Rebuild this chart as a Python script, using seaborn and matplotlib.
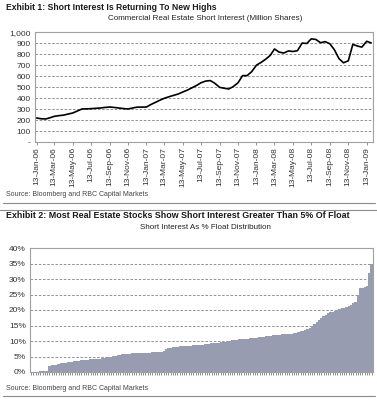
import matplotlib
matplotlib.use("Agg")
import matplotlib.pyplot as plt
import matplotlib.dates as mdates
from matplotlib.lines import Line2D
from matplotlib.ticker import FuncFormatter, MultipleLocator
import pandas as pd
import seaborn as sns

# Exhibit 1: semi-monthly short interest, million shares (13th and 28th of each month)
start_month = "2006-01"
end_month = "2009-01"
short_interest = [
    219, 212, 210, 222, 234, 240, 245, 255, 264, 282,
    301, 302, 304, 307, 310, 315, 319, 315, 310, 305,
    301, 310, 318, 318, 319, 342, 363, 383, 398, 412,
    425, 437, 455, 472, 494, 515, 540, 555, 560, 535,
    498, 490, 483, 505, 540, 605, 605, 640, 700, 725,
    755, 790, 848, 820, 811, 830, 825, 832, 902, 898,
    940, 935, 905, 915, 895, 840, 760, 722, 740, 890,
    875, 865, 918, 903,
]

# Exhibit 2: short interest as % of float, one bar per stock (sorted)
pct_float = [
    0.0, 0.0, 0.1, 0.1, 0.2, 0.2, 0.3, 0.4, 2.0, 2.1,
    2.2, 2.3, 2.5, 2.8, 2.9, 3.0, 3.1, 3.2, 3.3, 3.4,
    3.6, 3.7, 3.9, 3.9, 4.0, 4.0, 4.1, 4.2, 4.2, 4.3,
    4.3, 4.4, 4.6, 4.8, 4.9, 5.0, 5.1, 5.3, 5.5, 5.6,
    5.7, 5.8, 5.9, 5.9, 6.0, 6.0, 6.0, 6.0, 6.0, 6.0,
    6.1, 6.1, 6.2, 6.3, 6.3, 6.4, 6.4, 6.5, 6.9, 7.3,
    7.6, 7.8, 8.0, 8.1, 8.2, 8.3, 8.3, 8.4, 8.4, 8.5,
    8.5, 8.6, 8.6, 8.7, 8.7, 8.8, 8.9, 9.0, 9.1, 9.2,
    9.3, 9.4, 9.5, 9.6, 9.7, 9.8, 9.9, 10.0, 10.2, 10.3,
    10.4, 10.5, 10.6, 10.7, 10.7, 10.8, 10.9, 11.0, 11.0, 11.1,
    11.2, 11.3, 11.4, 11.5, 11.6, 11.7, 11.8, 11.9, 11.9, 12.0,
    12.1, 12.2, 12.2, 12.3, 12.4, 12.5, 12.7, 12.9, 13.1, 13.3,
    13.6, 13.8, 14.3, 14.9, 15.5, 16.2, 16.9, 17.5, 18.0, 18.5,
    18.9, 19.2, 19.5, 19.7, 20.0, 20.4, 20.7, 20.8, 21.0, 21.3,
    21.6, 22.2, 22.7, 24.8, 27.0, 27.2, 27.4, 27.6, 32.0, 35.0,
]

title1 = "Exhibit 1: Short Interest Is Returning To New Highs"
subtitle1 = "Commercial Real Estate Short Interest (Million Shares)"
title2 = "Exhibit 2: Most Real Estate Stocks Show Short Interest Greater Than 5% Of Float"
subtitle2 = "Short Interest As % Float Distribution"
source = "Source: Bloomberg and RBC Capital Markets"

months = pd.date_range(start_month + "-01", end_month + "-01", freq="MS")
dates = []
for m in months:
    dates.append(m + pd.Timedelta(days=12))
    dates.append(m + pd.Timedelta(days=27))
df1 = pd.DataFrame({"date": dates, "value": short_interest})
df2 = pd.DataFrame({"stock": list(range(len(pct_float))), "pct": pct_float})

sns.set_theme(style="white")
plt.rcParams["font.family"] = ["Liberation Sans", "DejaVu Sans"]

frame_col = "#a0a0a0"
grid_col = "#808080"
bar_col = "#979cb1"

fig = plt.figure(figsize=(3.77, 4.0), dpi=100)

# ---- chart 1
ax1 = fig.add_axes([35 / 377, 1 - 142 / 400, (372.7 - 35) / 377, (142 - 32.3) / 400])
sns.lineplot(data=df1, x="date", y="value", color="black", linewidth=1.2, ax=ax1)
ax1.set_ylim(0, 1000)
ax1.set_xlim(pd.Timestamp("2006-01-08"), pd.Timestamp("2009-02-02"))
ax1.yaxis.set_major_locator(MultipleLocator(100))
ax1.yaxis.set_major_formatter(FuncFormatter(lambda v, p: "-" if v == 0 else f"{v:,.0f}"))
ax1.xaxis.set_major_locator(mdates.MonthLocator(bymonth=[1, 3, 5, 7, 9, 11], bymonthday=13))
ax1.xaxis.set_major_formatter(mdates.DateFormatter("%d-%b-%y"))
ax1.grid(axis="y", color=grid_col, linestyle=(0, (3, 2)), linewidth=0.6)
ax1.set_xlabel("")
ax1.set_ylabel("")
ax1.tick_params(axis="x", labelsize=6, rotation=90, length=2, width=0.6,
                color=grid_col, pad=1.5, bottom=True)
ax1.tick_params(axis="y", labelsize=6, length=0, pad=3)

# ---- chart 2
ax2 = fig.add_axes([30 / 377, 1 - 372 / 400, (372.7 - 30) / 377, (372 - 248) / 400])
sns.barplot(data=df2, x="stock", y="pct", color=bar_col, saturation=1, width=1.0,
            edgecolor="none", ax=ax2)
ax2.set_ylim(0, 40)
ax2.yaxis.set_major_locator(MultipleLocator(5))
ax2.yaxis.set_major_formatter(FuncFormatter(lambda v, p: f"{v:.0f}%"))
ax2.set_xticklabels([])
ax2.grid(axis="y", color=grid_col, linestyle=(0, (3, 2)), linewidth=0.6)
ax2.set_axisbelow(True)
ax2.set_xlabel("")
ax2.set_ylabel("")
ax2.tick_params(axis="x", length=2, width=0.5, color="#606060", bottom=True)
ax2.tick_params(axis="y", labelsize=6, length=0, pad=3)

for ax in (ax1, ax2):
    for side in ax.spines.values():
        side.set_color(frame_col)
        side.set_linewidth(0.8)
    for lab in ax.get_yticklabels() + ax.get_xticklabels():
        lab.set_color("#333333")

# ---- page texts
fig.text(6 / 377, 1 - 7 / 400, title1, fontsize=6.2, fontweight="bold",
         color="#1a1a1a", va="center", ha="left")
fig.text(205 / 377, 1 - 19 / 400, subtitle1, fontsize=5.8, color="#222222",
         va="center", ha="center")
fig.text(6 / 377, 1 - 194 / 400, source, fontsize=5, color="#444444",
         va="center", ha="left")
fig.text(6 / 377, 1 - 216 / 400, title2, fontsize=6.4, fontweight="bold",
         color="#1a1a1a", va="center", ha="left")
fig.text(205 / 377, 1 - 228 / 400, subtitle2, fontsize=5.8, color="#222222",
         va="center", ha="center")
fig.text(6 / 377, 1 - 389 / 400, source, fontsize=5, color="#444444",
         va="center", ha="left")

for y, x0, x1 in [(203, 3, 375), (209.5, 0, 377), (396, 3, 375)]:
    fig.add_artist(Line2D([x0 / 377, x1 / 377], [1 - y / 400, 1 - y / 400],
                          transform=fig.transFigure, color="#8a8a8a", linewidth=0.8))

fig.savefig("out.png", dpi=100)
